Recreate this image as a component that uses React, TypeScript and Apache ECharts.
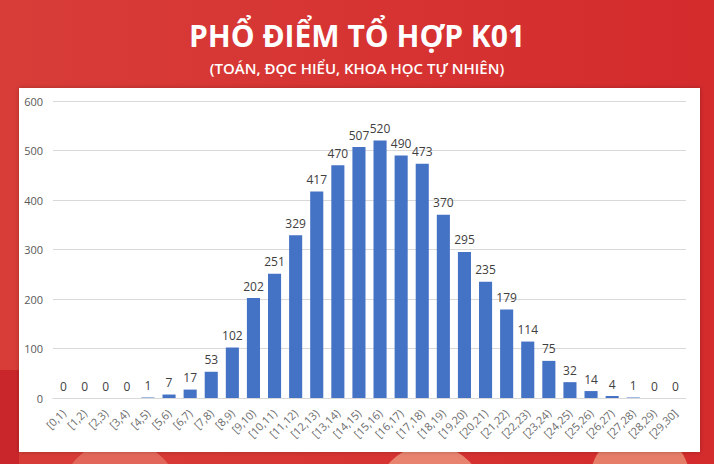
import React, { useEffect, useRef } from "react";
import * as echarts from "echarts";

const categories = [
  "[0,1)", "[1,2)", "[2,3)", "[3,4)", "[4,5)", "[5,6)", "[6,7)", "[7,8)", "[8,9)", "[9,10)",
  "[10,11)", "[11,12)", "[12,13)", "[13,14)", "[14,15)", "[15,16)", "[16,17)", "[17,18)", "[18,19)", "[19,20)",
  "[20,21)", "[21,22)", "[22,23)", "[23,24)", "[24,25)", "[25,26)", "[26,27)", "[27,28)", "[28,29)", "[29,30]",
];
const counts = [
  0, 0, 0, 0, 1, 7, 17, 53, 102, 202,
  251, 329, 417, 470, 507, 520, 490, 473, 370, 295,
  235, 179, 114, 75, 32, 14, 4, 1, 0, 0,
];
const titleText = "PHỔ ĐIỂM TỔ HỢP K01";
const subtitleText = "(TOÁN, ĐỌC HIỂU, KHOA HỌC TỰ NHIÊN)";

export default function App() {
  const ref = useRef<HTMLDivElement>(null);
  useEffect(() => {
    if (!ref.current) return;
    const chart = echarts.init(ref.current, null, { renderer: "svg" });
    chart.setOption({
      animation: false,
      backgroundColor: {
        type: "linear", x: 0, y: 0, x2: 1, y2: 0,
        colorStops: [
          { offset: 0, color: "#d83d38" },
          { offset: 1, color: "#d42b2d" },
        ],
      },
      graphic: [
        { type: "circle", shape: { cx: 120, cy: 500, r: 60 }, style: { fill: "#e2675a" }, z: -20 },
        { type: "circle", shape: { cx: 430, cy: 500, r: 55 }, style: { fill: "#e8836f" }, z: -20 },
        { type: "circle", shape: { cx: 640, cy: 480, r: 50 }, style: { fill: "#e67d68" }, z: -20 },
        { type: "rect", shape: { x: 0, y: 370, width: 19, height: 94 }, style: { fill: "#c9262b" }, z: -20 },
        {
          type: "rect",
          shape: { x: 19, y: 88, width: 681, height: 364 },
          style: { fill: "#ffffff", shadowBlur: 4, shadowColor: "rgba(0,0,0,0.25)" },
          z: -10,
        },
        {
          type: "text", x: 357, y: 35, z: 5,
          style: {
            text: titleText, fill: "#ffffff", font: "bold 30px 'Open Sans'",
            textAlign: "center", textVerticalAlign: "middle",
          },
        },
        {
          type: "text", x: 357, y: 68, z: 5,
          style: {
            text: subtitleText, fill: "#ffffff", font: "600 15px 'Open Sans'",
            textAlign: "center", textVerticalAlign: "middle",
          },
        },
      ],
      grid: { left: 53, right: 28, top: 101, bottom: 66, containLabel: false },
      xAxis: {
        type: "category",
        data: categories,
        z: 10,
        axisLine: { lineStyle: { color: "#d9d9d9" } },
        axisTick: { show: false },
        axisLabel: {
          rotate: 45, interval: 0, color: "#6b6b6b", fontSize: 11,
          fontFamily: "'Open Sans'", margin: 13,
        },
      },
      yAxis: {
        type: "value", min: 0, max: 600, interval: 100,
        z: 10,
        axisLine: { show: false },
        axisTick: { show: false },
        splitLine: { lineStyle: { color: "#d9d9d9" } },
        axisLabel: { color: "#595959", fontSize: 11, fontFamily: "'Open Sans'", margin: 10 },
      },
      series: [
        {
          type: "bar",
          data: counts,
          barWidth: "62%",
          itemStyle: { color: "#4472c4" },
          label: {
            show: true, position: "top", color: "#404040", fontSize: 12,
            fontFamily: "'Open Sans'", distance: 6,
          },
          z: 12,
        },
      ],
    });
    return () => chart.dispose();
  }, []);
  return (
    <div
      ref={ref}
      style={{ position: "fixed", left: 0, top: 0, width: 714, height: 464 }}
    />
  );
}
